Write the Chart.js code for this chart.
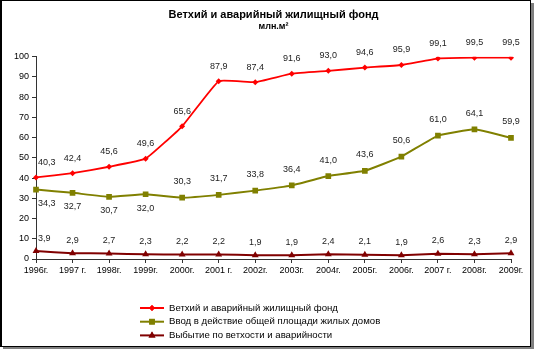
<!DOCTYPE html>
<html>
<head>
<meta charset="utf-8">
<script src="https://cdn.jsdelivr.net/npm/chart.js@4"></script>
<style>
  html, body { margin: 0; padding: 0; background: #fff; }
  #wrap { position: relative; width: 534px; height: 349px; }
  #frame {
    position: absolute; left: 0; top: 0; width: 531px; height: 347px;
    box-sizing: border-box; border: 1px solid #000; border-left-width: 2px;
    box-shadow: 3px 3px 0 #7f7f7f; pointer-events: none;
  }
</style>
</head>
<body>
<div id="wrap">
  <canvas id="chart" width="534" height="349"></canvas>
  <div id="frame"></div>
</div>
<script>
// данные
const years = ['1996г.', '1997 г.', '1998г.', '1999г.', '2000г.', '2001 г.', '2002г.',
               '2003г.', '2004г.', '2005г.', '2006г.', '2007 г.', '2008г.', '2009г.'];
const dilapidated = [40.3, 42.4, 45.6, 49.6, 65.6, 87.9, 87.4, 91.6, 93.0, 94.6, 95.9, 99.1, 99.5, 99.5];
const newHousing  = [34.3, 32.7, 30.7, 32.0, 30.3, 31.7, 33.8, 36.4, 41.0, 43.6, 50.6, 61.0, 64.1, 59.9];
const retired     = [3.9, 2.9, 2.7, 2.3, 2.2, 2.2, 1.9, 1.9, 2.4, 2.1, 1.9, 2.6, 2.3, 2.9];

const FONT = 'Liberation Sans, Arial, sans-serif';
Chart.defaults.font.family = FONT;
Chart.defaults.color = '#000';

// подписи значений
const valueLabels = {
  id: 'valueLabels',
  afterDatasetsDraw(chart) {
    const ctx = chart.ctx;
    const area = chart.chartArea;
    ctx.save();
    ctx.font = '9px ' + FONT;
    ctx.fillStyle = '#222';
    ctx.textBaseline = 'middle';
    chart.data.datasets.forEach((ds, di) => {
      const meta = chart.getDatasetMeta(di);
      meta.data.forEach((pt, i) => {
        const txt = ds.data[i].toFixed(1).replace('.', ',');
        const w = ctx.measureText(txt).width;
        let x = pt.x - w / 2;
        if (x < area.left + 2) x = area.left + 2;
        let dy = -15;
        if (di === 1) dy = i < 4 ? 14 : -16;
        if (di === 2) dy = -13;
        ctx.textAlign = 'left';
        ctx.fillText(txt, x, pt.y + dy);
      });
    });
    ctx.restore();
  }
};

// легенда в столбик
const columnLegend = {
  id: 'columnLegend',
  afterDraw(chart) {
    const ctx = chart.ctx;
    ctx.save();
    chart.data.datasets.forEach((ds, di) => {
      const y = 308 + di * 13.7;
      ctx.strokeStyle = ds.borderColor;
      ctx.lineWidth = 2;
      ctx.beginPath();
      ctx.moveTo(140, y);
      ctx.lineTo(164, y);
      ctx.stroke();
      ctx.fillStyle = ds.pointBackgroundColor;
      Chart.helpers.drawPoint(ctx, { pointStyle: ds.pointStyle, radius: ds.pointRadius, borderWidth: 0 }, 152, y);
      ctx.fill();
      ctx.fillStyle = '#000';
      ctx.font = '9.6px ' + FONT;
      ctx.textAlign = 'left';
      ctx.textBaseline = 'middle';
      ctx.fillText(ds.label, 169, y);
    });
    ctx.restore();
  }
};

new Chart(document.getElementById('chart'), {
  type: 'line',
  data: {
    labels: years,
    datasets: [
      {
        label: 'Ветхий и аварийный жилищный фонд',
        data: dilapidated,
        borderColor: '#ff0000',
        backgroundColor: '#ff0000',
        pointBackgroundColor: '#ff0000',
        borderWidth: 1.8,
        pointStyle: 'rectRot',
        pointRadius: 3,
        pointBorderWidth: 0
      },
      {
        label: 'Ввод в действие общей площади жилых домов',
        data: newHousing,
        borderColor: '#808000',
        backgroundColor: '#808000',
        pointBackgroundColor: '#808000',
        borderWidth: 2,
        pointStyle: 'rect',
        pointRadius: 4,
        pointBorderWidth: 0
      },
      {
        label: 'Выбытие по ветхости и аварийности',
        data: retired,
        borderColor: '#800000',
        backgroundColor: '#800000',
        pointBackgroundColor: '#800000',
        borderWidth: 2,
        pointStyle: 'triangle',
        pointRadius: 4,
        pointBorderWidth: 0
      }
    ]
  },
  options: {
    responsive: false,
    animation: false,
    tension: 0.1,
    layout: { padding: { top: 0, left: 0, right: 23, bottom: 74 } },
    plugins: {
      legend: { display: false },
      tooltip: { enabled: false },
      title: {
        display: true,
        text: 'Ветхий и аварийный жилищный фонд',
        fullSize: false,
        font: { size: 11, weight: 'bold' },
        color: '#000',
        padding: { top: 8, bottom: 0 }
      },
      subtitle: {
        display: true,
        text: 'млн.м²',
        fullSize: false,
        font: { size: 9, weight: 'bold' },
        color: '#000',
        padding: { top: 0, bottom: 24.7 }
      }
    },
    scales: {
      x: {
        grid: { drawOnChartArea: false, tickLength: 4, color: '#333' },
        border: { color: '#333' },
        ticks: { font: { size: 9 }, padding: 2, maxRotation: 0, autoSkip: false },
        afterFit(scale) { scale.height = 16; }
      },
      y: {
        min: 0,
        max: 100,
        grid: { drawOnChartArea: false, tickLength: 4, color: '#333' },
        border: { color: '#333' },
        ticks: { stepSize: 10, font: { size: 9 }, padding: 3 },
        afterFit(scale) { scale.width = 36; }
      }
    }
  },
  plugins: [valueLabels, columnLegend]
});
</script>
</body>
</html>
